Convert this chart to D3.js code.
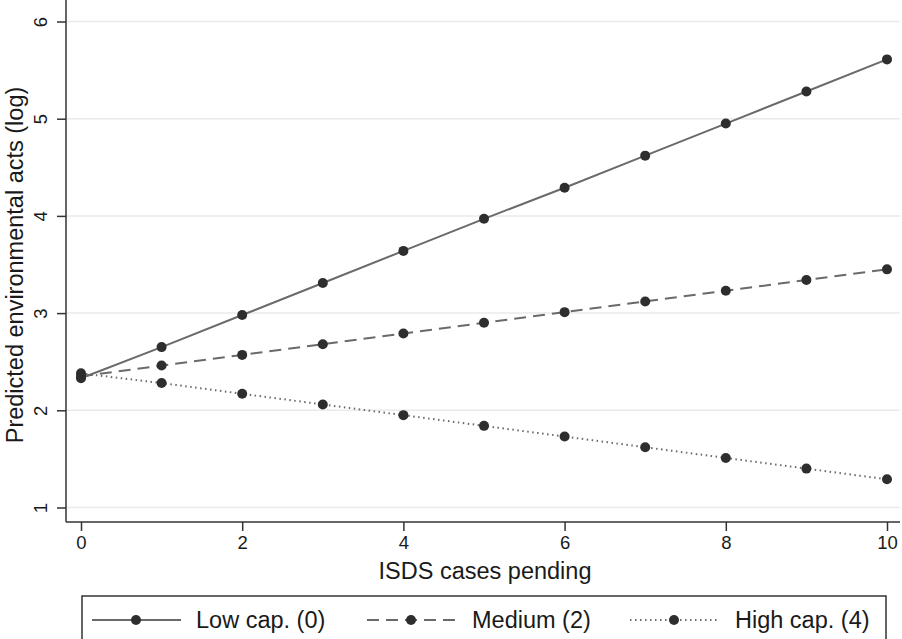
<!DOCTYPE html>
<html>
<head>
<meta charset="utf-8">
<script src="https://cdn.jsdelivr.net/npm/d3@7"></script>
<style>
  body { margin: 0; background: #fff; }
  text { font-family: "Liberation Sans", Arial, sans-serif; fill: #1a1a1a; }
</style>
</head>
<body>
<svg id="chart"></svg>
<script>
// predicted values
var cases = [0, 1, 2, 3, 4, 5, 6, 7, 8, 9, 10];
var lowCap = [2.33, 2.65, 2.98, 3.31, 3.64, 3.97, 4.29, 4.62, 4.95, 5.28, 5.61];
var medium = [2.35, 2.46, 2.57, 2.68, 2.79, 2.90, 3.01, 3.12, 3.23, 3.34, 3.45];
var highCap = [2.38, 2.28, 2.17, 2.06, 1.95, 1.84, 1.73, 1.62, 1.51, 1.40, 1.29];
var seriesNames = ["Low cap. (0)", "Medium (2)", "High cap. (4)"];
var xTicks = [0, 2, 4, 6, 8, 10];
var yTicks = [1, 2, 3, 4, 5, 6];

var W = 902, H = 639;
var svg = d3.select("#chart").attr("width", W).attr("height", H);

var x = d3.scaleLinear().domain([0, 10]).range([81, 887]);
var y = d3.scaleLinear().domain([1, 6]).range([507.5, 21.5]);
var axisX = 66, axisY = 522, rightEdge = 900;

// gridlines
svg.append("g").selectAll("line").data(yTicks).join("line")
  .attr("x1", axisX).attr("x2", rightEdge)
  .attr("y1", function(d) { return y(d); }).attr("y2", function(d) { return y(d); })
  .attr("stroke", "#eaeaea").attr("stroke-width", 1.5);

// y axis
var yAxis = d3.axisLeft(y).tickValues(yTicks).tickSize(9).tickFormat(d3.format("d"));
var yG = svg.append("g").attr("transform", "translate(" + axisX + ",0)").call(yAxis);
yG.select(".domain").attr("d", "M0,0V" + axisY).attr("stroke", "#333").attr("stroke-width", 1.5);
yG.selectAll(".tick line").attr("stroke", "#333").attr("stroke-width", 1.5);
yG.selectAll(".tick text")
  .style("font-size", "18.5px").style("font-family", "Liberation Sans, Arial, sans-serif")
  .style("fill", "#1a1a1a")
  .attr("text-anchor", "middle")
  .attr("transform", "translate(-25,0) rotate(-90)")
  .attr("x", 0).attr("dy", "0.35em");

// x axis
var xAxis = d3.axisBottom(x).tickValues(xTicks).tickSize(9).tickPadding(5).tickFormat(d3.format("d"));
var xG = svg.append("g").attr("transform", "translate(0," + axisY + ")").call(xAxis);
xG.select(".domain").attr("d", "M" + axisX + ",0H" + rightEdge).attr("stroke", "#333").attr("stroke-width", 1.5);
xG.selectAll(".tick line").attr("stroke", "#333").attr("stroke-width", 1.5);
xG.selectAll(".tick text")
  .style("font-size", "18.5px").style("font-family", "Liberation Sans, Arial, sans-serif")
  .style("fill", "#1a1a1a");

// axis titles
svg.append("text").attr("x", 485).attr("y", 579).attr("text-anchor", "middle")
  .style("font-size", "23.5px").text("ISDS cases pending");
svg.append("text").attr("transform", "translate(23,265) rotate(-90)").attr("text-anchor", "middle")
  .style("font-size", "23.5px").text("Predicted environmental acts (log)");

var dashes = [null, "12,7", "1.5,3.5"];
var allSeries = [lowCap, medium, highCap];

var line = d3.line()
  .x(function(d, i) { return x(cases[i]); })
  .y(function(d) { return y(d); });

allSeries.forEach(function(vals, k) {
  svg.append("path").attr("d", line(vals))
    .attr("fill", "none").attr("stroke", "#6a6a6a").attr("stroke-width", 2)
    .attr("stroke-dasharray", dashes[k]);
});
allSeries.forEach(function(vals) {
  svg.append("g").selectAll("circle").data(vals).join("circle")
    .attr("cx", function(d, i) { return x(cases[i]); })
    .attr("cy", function(d) { return y(d); })
    .attr("r", 5).attr("fill", "#2e2e2e");
});

// legend
svg.append("rect").attr("x", 82).attr("y", 596).attr("width", 804).attr("height", 60)
  .attr("fill", "#fff").attr("stroke", "#333").attr("stroke-width", 1.5);
var legX = [92, 367, 630];
var legTextX = [104, 105, 105];
seriesNames.forEach(function(name, k) {
  var lg = svg.append("g").attr("transform", "translate(" + legX[k] + ",620)");
  lg.append("line").attr("x1", 0).attr("x2", 89)
    .attr("stroke", "#6a6a6a").attr("stroke-width", 2).attr("stroke-dasharray", dashes[k]);
  lg.append("circle").attr("cx", 44).attr("r", 5).attr("fill", "#2e2e2e");
  lg.append("text").attr("x", legTextX[k]).attr("y", 0).attr("dy", "0.35em")
    .style("font-size", "23.5px").text(name);
});
</script>
</body>
</html>
